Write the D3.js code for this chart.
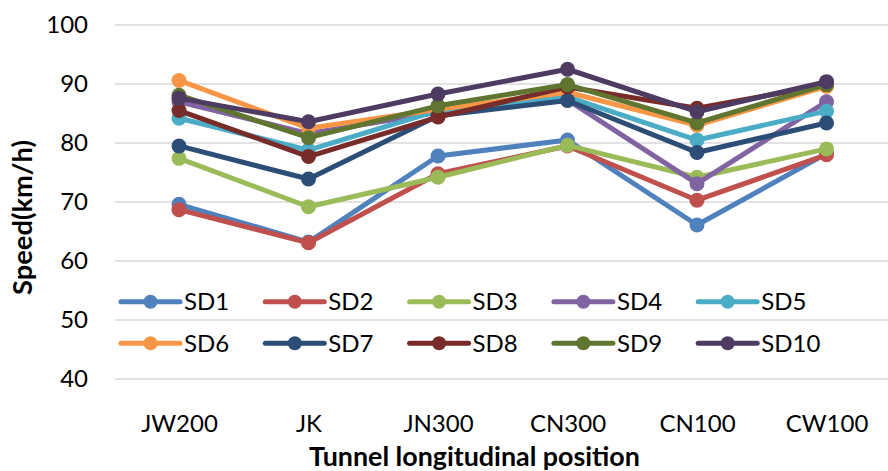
<!DOCTYPE html>
<html>
<head>
<meta charset="utf-8">
<script src="https://cdn.jsdelivr.net/npm/d3@7"></script>
<style>
  html, body { margin: 0; padding: 0; background: #fff; }
  svg { display: block; font-family: Lato, "Open Sans", sans-serif; }
</style>
</head>
<body>
<svg id="chart" width="888" height="471"></svg>
<script>
// Measurement positions along the tunnel
const positions = ["JW200", "JK", "JN300", "CN300", "CN100", "CW100"];

// Speed (km/h) per section
const seriesNames = ["SD1", "SD2", "SD3", "SD4", "SD5", "SD6", "SD7", "SD8", "SD9", "SD10"];
const sd1  = [69.6, 63.2, 77.8, 80.5, 66.1, 78.2];
const sd2  = [68.7, 63.1, 74.8, 79.5, 70.3, 78.0];
const sd3  = [77.4, 69.2, 74.2, 79.6, 74.2, 79.0];
const sd4  = [87.0, 81.6, 85.2, 87.3, 73.1, 87.0];
const sd5  = [84.2, 78.8, 85.5, 87.8, 80.5, 85.4];
const sd6  = [90.6, 82.5, 85.7, 88.6, 83.0, 89.6];
const sd7  = [79.5, 73.9, 84.6, 87.2, 78.4, 83.4];
const sd8  = [85.5, 77.7, 84.4, 89.5, 85.9, 89.9];
const sd9  = [88.1, 80.9, 86.3, 89.9, 83.4, 89.9];
const sd10 = [87.6, 83.6, 88.3, 92.5, 85.3, 90.4];
const seriesValues = [sd1, sd2, sd3, sd4, sd5, sd6, sd7, sd8, sd9, sd10];

const colors = ["#4F81BD", "#C0504D", "#9BBB59", "#8064A2", "#4BACC6",
                "#F79646", "#2C4D75", "#772C2A", "#5F7530", "#4D3B62"];

const yTicks = [40, 50, 60, 70, 80, 90, 100];

const svg = d3.select("#chart");

const x = d3.scalePoint()
  .domain(positions)
  .range([114.25, 891.25])
  .padding(0.5);

const y = d3.scaleLinear()
  .domain([40, 100])
  .range([379, 25]);

// Horizontal gridlines
svg.append("g")
  .selectAll("line")
  .data(yTicks)
  .join("line")
  .attr("x1", 115)
  .attr("x2", 888)
  .attr("y1", d => y(d))
  .attr("y2", d => y(d))
  .attr("stroke", "#D9D9D9")
  .attr("stroke-width", 1.5);

// Y axis labels
const yAxis = d3.axisLeft(y).tickValues(yTicks).tickSize(0).tickPadding(0);
svg.append("g")
  .attr("transform", "translate(88,0)")
  .call(yAxis)
  .call(g => g.select(".domain").remove())
  .call(g => g.selectAll("text")
    .attr("font-family", "Lato, sans-serif")
    .attr("font-size", 24)
    .attr("fill", "#000"));

// X axis labels
const xAxis = d3.axisBottom(x).tickSize(0).tickPadding(0);
svg.append("g")
  .attr("transform", "translate(0,415)")
  .call(xAxis)
  .call(g => g.select(".domain").remove())
  .call(g => g.selectAll("text")
    .attr("font-family", "Lato, sans-serif")
    .attr("font-size", 24)
    .attr("fill", "#000"));

// Axis titles, sized to span a set length
function fitText(sel, targetLen, baseSize) {
  const len = sel.node().getComputedTextLength();
  sel.attr("font-size", baseSize * targetLen / len);
}

const yTitle = svg.append("text")
  .attr("transform", "translate(32,217.5) rotate(-90)")
  .attr("text-anchor", "middle")
  .attr("font-size", 24)
  .attr("font-weight", "bold")
  .attr("fill", "#000")
  .text("Speed(km/h)");
fitText(yTitle, 155, 24);

const xTitle = svg.append("text")
  .attr("x", 474.5)
  .attr("y", 466)
  .attr("text-anchor", "middle")
  .attr("font-size", 24)
  .attr("font-weight", "bold")
  .attr("fill", "#000")
  .text("Tunnel longitudinal position");
fitText(xTitle, 331, 24);

// Series lines and markers
const line = d3.line()
  .x((d, i) => x(positions[i]))
  .y(d => y(d));

seriesValues.forEach((vals, si) => {
  const g = svg.append("g");
  g.append("path")
    .attr("d", line(vals))
    .attr("fill", "none")
    .attr("stroke", colors[si])
    .attr("stroke-width", 5)
    .attr("stroke-linejoin", "round")
    .attr("stroke-linecap", "round");
  g.selectAll("circle")
    .data(vals)
    .join("circle")
    .attr("cx", (d, i) => x(positions[i]))
    .attr("cy", d => y(d))
    .attr("r", 7.5)
    .attr("fill", colors[si]);
});

// Legend: two rows of five
const legend = svg.append("g");
seriesNames.forEach((name, i) => {
  const col = i % 5, row = Math.floor(i / 5);
  const lx = 121 + col * 144.3;
  const ly = 301.7 + row * 41.6;
  const item = legend.append("g").attr("transform", `translate(${lx},${ly})`);
  item.append("line")
    .attr("x1", 0).attr("x2", 59)
    .attr("y1", 0).attr("y2", 0)
    .attr("stroke", colors[i])
    .attr("stroke-width", 5)
    .attr("stroke-linecap", "round");
  item.append("circle")
    .attr("cx", 29.5).attr("cy", 0)
    .attr("r", 7)
    .attr("fill", colors[i]);
  item.append("text")
    .attr("x", 63)
    .attr("y", 0)
    .attr("dy", "0.36em")
    .attr("font-size", 24)
    .attr("fill", "#000")
    .text(name);
});
</script>
</body>
</html>
